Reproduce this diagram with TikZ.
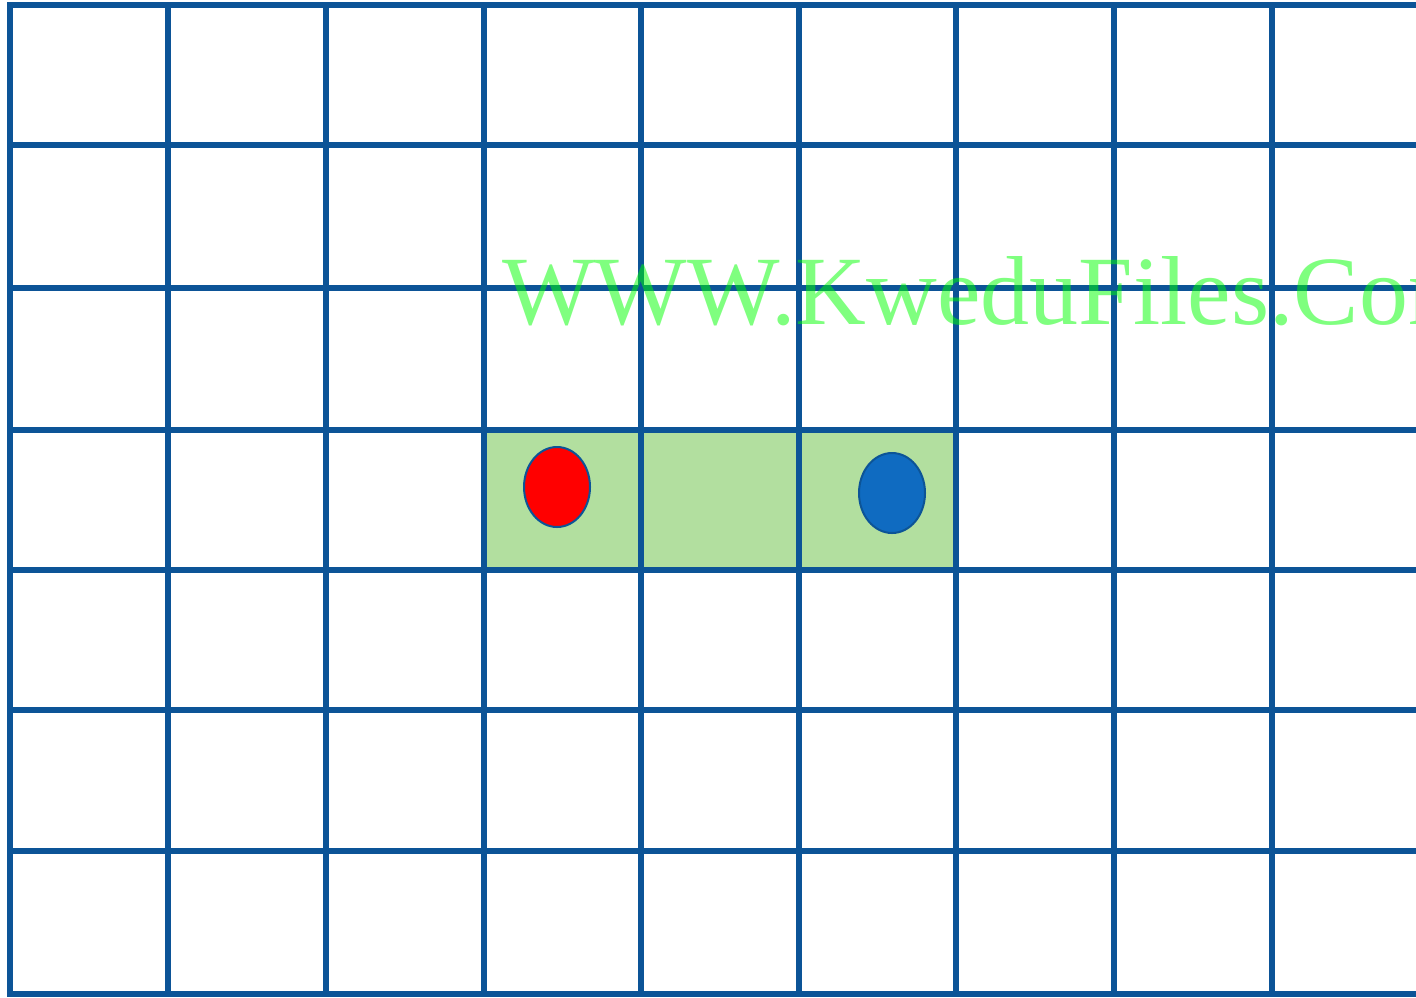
\documentclass[tikz,border=0pt]{standalone}
\usepackage{fontspec}
\usetikzlibrary{shapes.geometric}
\newfontfamily\wmfont{Liberation Serif}
\definecolor{gridblue}{HTML}{0C5497}
\definecolor{bandgreen}{HTML}{B2DF9F}
\definecolor{tokenblue}{HTML}{0F6BC1}
\definecolor{wmgreen}{HTML}{00FF00}

\begin{document}
\begin{tikzpicture}[
  x=0.5pt, y=-0.5pt,
  gridline/.style={draw=gridblue, line width=3pt},
  token/.style={ellipse, draw=gridblue, line width=1pt, inner sep=0pt,
                minimum width=33pt, minimum height=40pt},
  wmark/.style={anchor=base west, inner sep=0pt, text=wmgreen, text opacity=0.5,
                font=\wmfont\fontsize{49}{58}\selectfont},
]
\useasboundingbox (0,0) rectangle (1416,997);
\clip (0,0) rectangle (1416,997);

% highlighted band of three cells
\fill[bandgreen] (484,430) rectangle (956,570);

% grid
\foreach \gx in {10,168,326,484,641,799,956,1114,1272}
  \draw[gridline] (\gx,2) -- (\gx,997);
\foreach \gy in {5,145,288,430,570,710,851,994}
  \draw[gridline] (8,\gy) -- (1416,\gy);

% tokens
\node[token, fill=red]       (start) at (557,487) {};
\node[token, fill=tokenblue] (goal)  at (892,493) {};

% watermark
\node[wmark] (site) at (502,324) {WWW.KweduFiles.Com};

\end{tikzpicture}
\end{document}
